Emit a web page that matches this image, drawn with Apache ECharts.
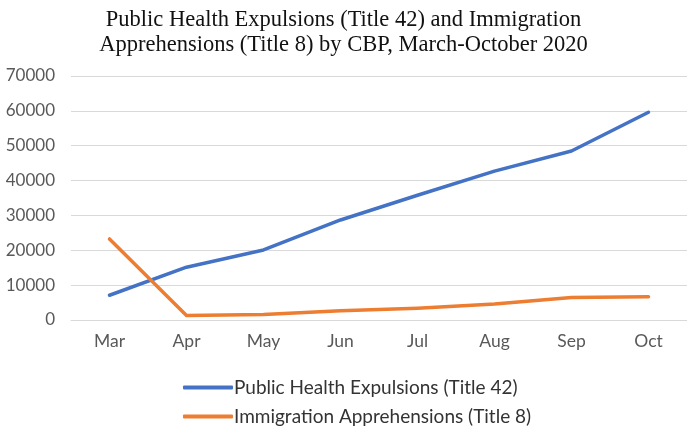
<!DOCTYPE html>
<html><head><meta charset="utf-8">
<script src="https://cdn.jsdelivr.net/npm/echarts@6/dist/echarts.min.js"></script>
<style>html,body{margin:0;padding:0;background:#fff}#c{width:687px;height:440px}</style>
</head><body><div id="c"></div>
<script>
var months = ['Mar','Apr','May','Jun','Jul','Aug','Sep','Oct'];
var title42 = [7100, 15150, 20100, 28700, 35800, 42700, 48500, 59600];
var title8 = [23250, 1300, 1600, 2650, 3400, 4600, 6450, 6650];
var yTicks = {min: 0, max: 70000, interval: 10000};

var chart = echarts.init(document.getElementById('c'));
chart.setOption({
  animation: false,
  backgroundColor: '#fff',
  title: {
    text: 'Public Health Expulsions (Title 42) and Immigration\nApprehensions (Title 8) by CBP, March-October 2020',
    left: 'center', top: 3,
    textStyle: {fontFamily: 'Liberation Serif', fontSize: 22.5, fontWeight: 'normal', color: '#111', lineHeight: 25}
  },
  legend: {
    orient: 'vertical', left: 178, top: 373, itemGap: 10,
    itemWidth: 50, itemHeight: 4, icon: 'roundRect',
    textStyle: {fontFamily: 'Lato', fontSize: 19, color: '#333', padding: [0,0,0,-4]},
    data: ['Public Health Expulsions (Title 42)', 'Immigration Apprehensions (Title 8)']
  },
  grid: {left: 71, right: 0, top: 76, bottom: 120},
  xAxis: {
    type: 'category', data: months, boundaryGap: true,
    axisLine: {lineStyle: {color: '#d9d9d9', width: 1}},
    axisTick: {show: false},
    axisLabel: {fontFamily: 'Lato', fontSize: 17.5, color: '#595959', margin: 12}
  },
  yAxis: {
    type: 'value', min: yTicks.min, max: yTicks.max, interval: yTicks.interval,
    axisLine: {show: false}, axisTick: {show: false},
    axisLabel: {fontFamily: 'Lato', fontSize: 17, color: '#595959', margin: 16,
      formatter: function (v) { return String(v); }},
    splitLine: {lineStyle: {color: '#d9d9d9', width: 1}}
  },
  series: [
    {name: 'Public Health Expulsions (Title 42)', type: 'line', data: title42, symbol: 'none',
     lineStyle: {color: '#4472C4', width: 3.5, cap: 'round', join: 'round'}, itemStyle: {color: '#4472C4'}},
    {name: 'Immigration Apprehensions (Title 8)', type: 'line', data: title8, symbol: 'none',
     lineStyle: {color: '#ED7D31', width: 3.5, cap: 'round', join: 'round'}, itemStyle: {color: '#ED7D31'}}
  ]
});
</script></body></html>
